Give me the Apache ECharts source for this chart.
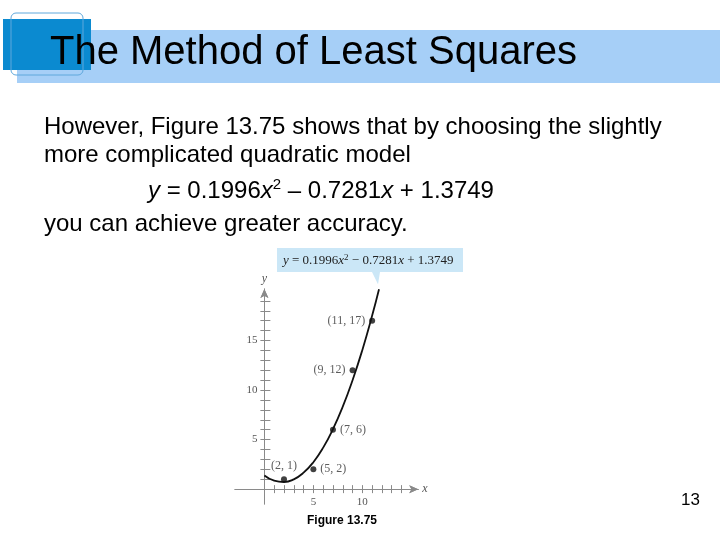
<!DOCTYPE html>
<html>
<head>
<meta charset="utf-8">
<script src="https://cdn.jsdelivr.net/npm/echarts@6/dist/echarts.min.js"></script>
<style>
html,body{margin:0;padding:0;background:#fff;}
#chart{width:720px;height:540px;}
</style>
</head>
<body>
<div id="chart"></div>
<script>
// Data points shown in the figure
const pointX = [2, 5, 7, 9, 11];
const pointY = [1, 2, 6, 12, 17];
const pointLabels = ['(2, 1)', '(5, 2)', '(7, 6)', '(9, 12)', '(11, 17)'];
const pointLabelSide = ['top', 'right', 'right', 'left', 'left'];

// Quadratic model curve
const curveX = [0, 1, 2, 3, 4, 5, 6, 7, 8, 9, 10, 11, 11.7];
const curveY = [1.37, 0.85, 0.72, 0.99, 1.66, 2.72, 4.19, 6.06, 8.32, 10.99, 14.05, 17.52, 20.18];

// Ticks and tick labels
const xTicks = [1, 2, 3, 4, 5, 6, 7, 8, 9, 10, 11, 12, 13, 14];
const yTicks = [1, 2, 3, 4, 5, 6, 7, 8, 9, 10, 11, 12, 13, 14, 15, 16, 17, 18, 19];
const xTickLabels = [5, 10];
const yTickLabels = [5, 10, 15];

// Texts
const titleText = 'The Method of Least Squares';
const bodyLine1 = 'However, Figure 13.75 shows that by choosing the slightly';
const bodyLine2 = 'more complicated quadratic model';
const bodyLine4 = 'you can achieve greater accuracy.';
const captionText = 'Figure 13.75';
const pageNumber = '13';

const chart = echarts.init(document.getElementById('chart'));
const serif = '"Liberation Serif", "DejaVu Serif", serif';
const sans = '"Liberation Sans", Arial, sans-serif';
const axisColor = '#8a8a8a';

const X_MIN = -3, X_MAX = 15.7, Y_MIN = -1.5, Y_MAX = 20.2;
const X0PX = 264.4, Y0PX = 488.9, XR = 418.2, YT = 289;

function xAxisDef(idx, inside) {
  return {
    type: 'value', gridIndex: 0, min: X_MIN, max: X_MAX, position: 'bottom',
    name: idx === 0 ? 'x' : '', nameLocation: 'end', nameGap: 4,
    nameTextStyle: { fontFamily: serif, fontStyle: 'italic', fontSize: 12, color: '#555' },
    splitLine: { show: false },
    axisLine: { onZero: true, onZeroAxisIndex: idx, symbol: ['none', 'arrow'], symbolSize: [6, 9],
      lineStyle: { color: axisColor, width: 1 } },
    axisTick: { show: true, customValues: xTicks, inside: inside, length: 4,
      lineStyle: { color: axisColor, width: 1 } },
    axisLabel: { show: false }
  };
}
function yAxisDef(idx, inside) {
  return {
    type: 'value', gridIndex: 0, min: Y_MIN, max: Y_MAX, position: 'left',
    name: idx === 0 ? 'y' : '', nameLocation: 'end', nameGap: 4,
    nameTextStyle: { fontFamily: serif, fontStyle: 'italic', fontSize: 12, color: '#555' },
    splitLine: { show: false },
    axisLine: { onZero: true, onZeroAxisIndex: idx, symbol: ['none', 'arrow'], symbolSize: [6, 9],
      lineStyle: { color: axisColor, width: 1 } },
    axisTick: { show: true, customValues: yTicks, inside: inside, length: inside ? 6 : 4,
      lineStyle: { color: axisColor, width: 1 } },
    axisLabel: { show: false }
  };
}

const option = {
  backgroundColor: '#fff',
  animation: false,
  grid: [
    { left: 235, top: YT, width: XR - 235, height: 504 - YT, containLabel: false },
    { left: X0PX, top: YT, width: XR - X0PX, height: Y0PX - YT, containLabel: false }
  ],
  xAxis: [xAxisDef(0, false), xAxisDef(1, true),
    { type: 'value', gridIndex: 1, min: 0, max: X_MAX, position: 'bottom', splitLine: { show: false },
      axisLine: { show: false }, axisTick: { show: false },
      axisLabel: { customValues: xTickLabels, fontFamily: serif, fontSize: 11, color: '#555', margin: 8 } }
  ],
  yAxis: [yAxisDef(0, false), yAxisDef(1, true),
    { type: 'value', gridIndex: 1, min: 0, max: Y_MAX, position: 'left', splitLine: { show: false },
      axisLine: { show: false }, axisTick: { show: false },
      axisLabel: { customValues: yTickLabels, fontFamily: serif, fontSize: 11, color: '#555', margin: 7 } }
  ],
  series: [
    {
      type: 'line', xAxisIndex: 0, yAxisIndex: 0, smooth: true, showSymbol: false,
      lineStyle: { color: '#111', width: 1.8 },
      data: curveX.map((x, i) => [x, curveY[i]]),
      silent: true, z: 3
    },
    {
      type: 'scatter', xAxisIndex: 0, yAxisIndex: 0, symbolSize: 6,
      itemStyle: { color: '#111' },
      data: pointX.map((x, i) => ({
        value: [x, pointY[i]],
        label: { show: true, formatter: pointLabels[i], position: pointLabelSide[i], distance: 4 }
      })),
      label: { fontFamily: serif, fontSize: 12, color: '#333' },
      z: 4
    }
  ],
  graphic: [
    { type: 'rect', shape: { x: 17, y: 30, width: 703, height: 53 }, style: { fill: '#a6cff7' }, z: 1 },
    { type: 'rect', shape: { x: 3, y: 19, width: 88, height: 51 }, style: { fill: '#0b8ad0' }, z: 2 },
    { type: 'rect', shape: { x: 11, y: 13, width: 72, height: 62, r: 5 }, style: { fill: 'none', stroke: '#5fa8dc', lineWidth: 1 }, z: 3 },
    { type: 'text', x: 50, y: 53, z: 4, style: { text: titleText, font: '40px ' + sans, fill: '#000', verticalAlign: 'middle' } },
    { type: 'text', x: 44, y: 127, z: 4, style: { text: bodyLine1, font: '24px ' + sans, fill: '#000', verticalAlign: 'middle' } },
    { type: 'text', x: 44, y: 155, z: 4, style: { text: bodyLine2, font: '24px ' + sans, fill: '#000', verticalAlign: 'middle' } },
    { type: 'text', x: 148, y: 191, z: 4, style: {
      text: '{i|y} = 0.1996{i|x}{s|2} – 0.7281{i|x} + 1.3749',
      font: '24px ' + sans, fill: '#000', verticalAlign: 'middle', lineHeight: 28,
      rich: {
        i: { fontFamily: sans, fontSize: 24, fontStyle: 'italic', lineHeight: 28, fill: '#000' },
        s: { fontFamily: sans, fontSize: 15, lineHeight: 16, verticalAlign: 'top', fill: '#000' }
      }
    } },
    { type: 'text', x: 44, y: 224, z: 4, style: { text: bodyLine4, font: '24px ' + sans, fill: '#000', verticalAlign: 'middle' } },
    { type: 'text', x: 342, y: 521, z: 4, style: { text: captionText, font: 'bold 12px ' + sans, fill: '#000', align: 'center', verticalAlign: 'middle' } },
    { type: 'text', x: 700, y: 500, z: 4, style: { text: pageNumber, font: '17px ' + sans, fill: '#000', align: 'right', verticalAlign: 'middle' } }
  ]
};
chart.setOption(option);

// Callout box pointing to the end of the curve
const endPx = chart.convertToPixel({ xAxisIndex: 0, yAxisIndex: 0 }, [curveX[curveX.length - 1], curveY[curveY.length - 1]]);
const boxX = 277, boxY = 248, boxW = 186, boxH = 24;
chart.setOption({
  graphic: option.graphic.concat([
    { type: 'polygon', z: 5, shape: { points: [[boxX, boxY], [boxX + boxW, boxY], [boxX + boxW, boxY + boxH],
      [380, boxY + boxH], [endPx[0] - 1, endPx[1] - 5], [372, boxY + boxH], [boxX, boxY + boxH]] },
      style: { fill: '#cbe7f7' } },
    { type: 'text', x: boxX + 6, y: boxY + boxH / 2 + 1, z: 6, style: {
      text: '{i|y} = 0.1996{i|x}{s|2} − 0.7281{i|x} + 1.3749',
      font: '13px ' + serif, fill: '#222', verticalAlign: 'middle', lineHeight: 16,
      rich: {
        i: { fontFamily: serif, fontSize: 13, fontStyle: 'italic', lineHeight: 16, fill: '#222' },
        s: { fontFamily: serif, fontSize: 9, lineHeight: 10, verticalAlign: 'top', fill: '#222' }
      }
    } }
  ])
});
</script>
</body>
</html>
